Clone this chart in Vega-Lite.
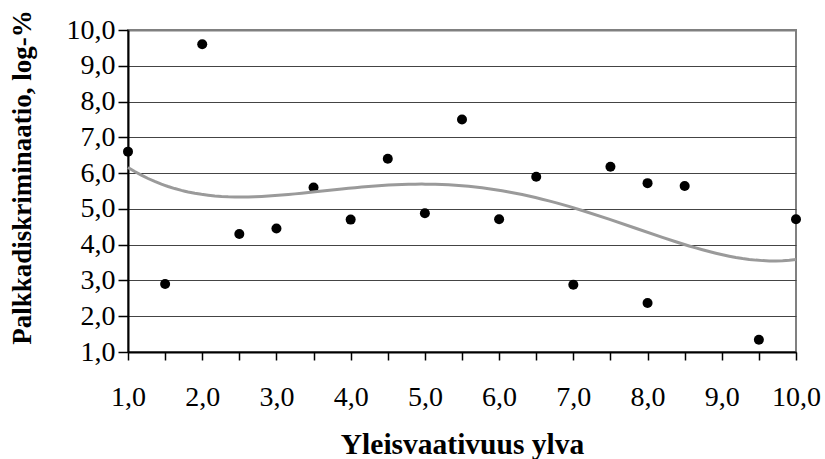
{
  "$schema": "https://vega.github.io/schema/vega-lite/v6.json",
  "width": 668,
  "height": 322,
  "autosize": {"type": "none"},
  "padding": {"left": 128, "top": 30, "right": 29, "bottom": 107},
  "background": "white",
  "config": {
    "font": "Liberation Serif",
    "view": {"stroke": "#808080", "strokeWidth": 2},
    "axis": {"labelOverlap": false}
  },
  "data": {
    "values": [
      {"x": 1.0, "y": 6.6},
      {"x": 1.5, "y": 2.9},
      {"x": 2.0, "y": 9.6},
      {"x": 2.5, "y": 4.3},
      {"x": 3.0, "y": 4.45},
      {"x": 3.5, "y": 5.6},
      {"x": 4.0, "y": 4.7},
      {"x": 4.5, "y": 6.4},
      {"x": 5.0, "y": 4.88},
      {"x": 5.5, "y": 7.5},
      {"x": 6.0, "y": 4.71},
      {"x": 6.5, "y": 5.9},
      {"x": 7.0, "y": 2.88},
      {"x": 7.5, "y": 6.18},
      {"x": 8.0, "y": 5.72},
      {"x": 8.0, "y": 2.37},
      {"x": 8.5, "y": 5.64},
      {"x": 9.5, "y": 1.34},
      {"x": 10.0, "y": 4.71}
    ]
  },
  "layer": [
    {
      "mark": {"type": "circle", "color": "black", "opacity": 1, "size": 100},
      "encoding": {
        "x": {
          "field": "x", "type": "quantitative",
          "scale": {"domain": [1, 10], "nice": false, "zero": false},
          "axis": {
            "values": [1, 1.5, 2, 2.5, 3, 3.5, 4, 4.5, 5, 5.5, 6, 6.5, 7, 7.5, 8, 8.5, 9, 9.5, 10],
            "tickCount": 100,
            "labelExpr": "datum.value % 1 == 0 ? replace(format(datum.value, '.1f'), '.', ',') : ''",
            "grid": false,
            "domainColor": "black", "domainWidth": 2,
            "tickColor": "black", "tickWidth": 1.5, "tickSize": 8,
            "labelFont": "Liberation Serif", "labelFontSize": 28, "labelColor": "black",
            "labelBaseline": "alphabetic",
            "labelPadding": 45, "labelOverlap": false, "labelFlush": false,
            "title": "Yleisvaativuus ylva",
            "titleFont": "Liberation Serif", "titleFontSize": 29.5, "titleFontWeight": "bold", "titleColor": "black",
            "titleBaseline": "alphabetic", "titleY": 101
          }
        },
        "y": {
          "field": "y", "type": "quantitative",
          "scale": {"domain": [1, 10], "nice": false, "zero": false},
          "axis": {
            "values": [1, 2, 3, 4, 5, 6, 7, 8, 9, 10],
            "tickCount": 100,
            "labelExpr": "replace(format(datum.value, '.1f'), '.', ',')",
            "grid": true,
            "gridColor": {"condition": {"test": "datum.value == 10", "value": "#808080"}, "value": "#444444"},
            "gridWidth": {"condition": {"test": "datum.value == 10", "value": 2}, "value": 1},
            "domainColor": "black", "domainWidth": 2,
            "tickColor": "black", "tickWidth": 1.5, "tickSize": 10,
            "labelFont": "Liberation Serif", "labelFontSize": 28, "labelColor": "black",
            "labelPadding": 3, "labelOverlap": false, "labelFlush": false,
            "title": "Palkkadiskriminaatio, log-%",
            "titleFont": "Liberation Serif", "titleFontSize": 27, "titleFontWeight": "bold", "titleColor": "black",
            "titleBaseline": "middle", "titleX": -106, "titleY": 147
          }
        }
      }
    },
    {
      "transform": [{"regression": "y", "on": "x", "method": "poly", "order": 4}],
      "mark": {"type": "line", "color": "#9a9a9a", "strokeWidth": 3},
      "encoding": {
        "x": {"field": "x", "type": "quantitative"},
        "y": {"field": "y", "type": "quantitative"}
      }
    }
  ]
}
